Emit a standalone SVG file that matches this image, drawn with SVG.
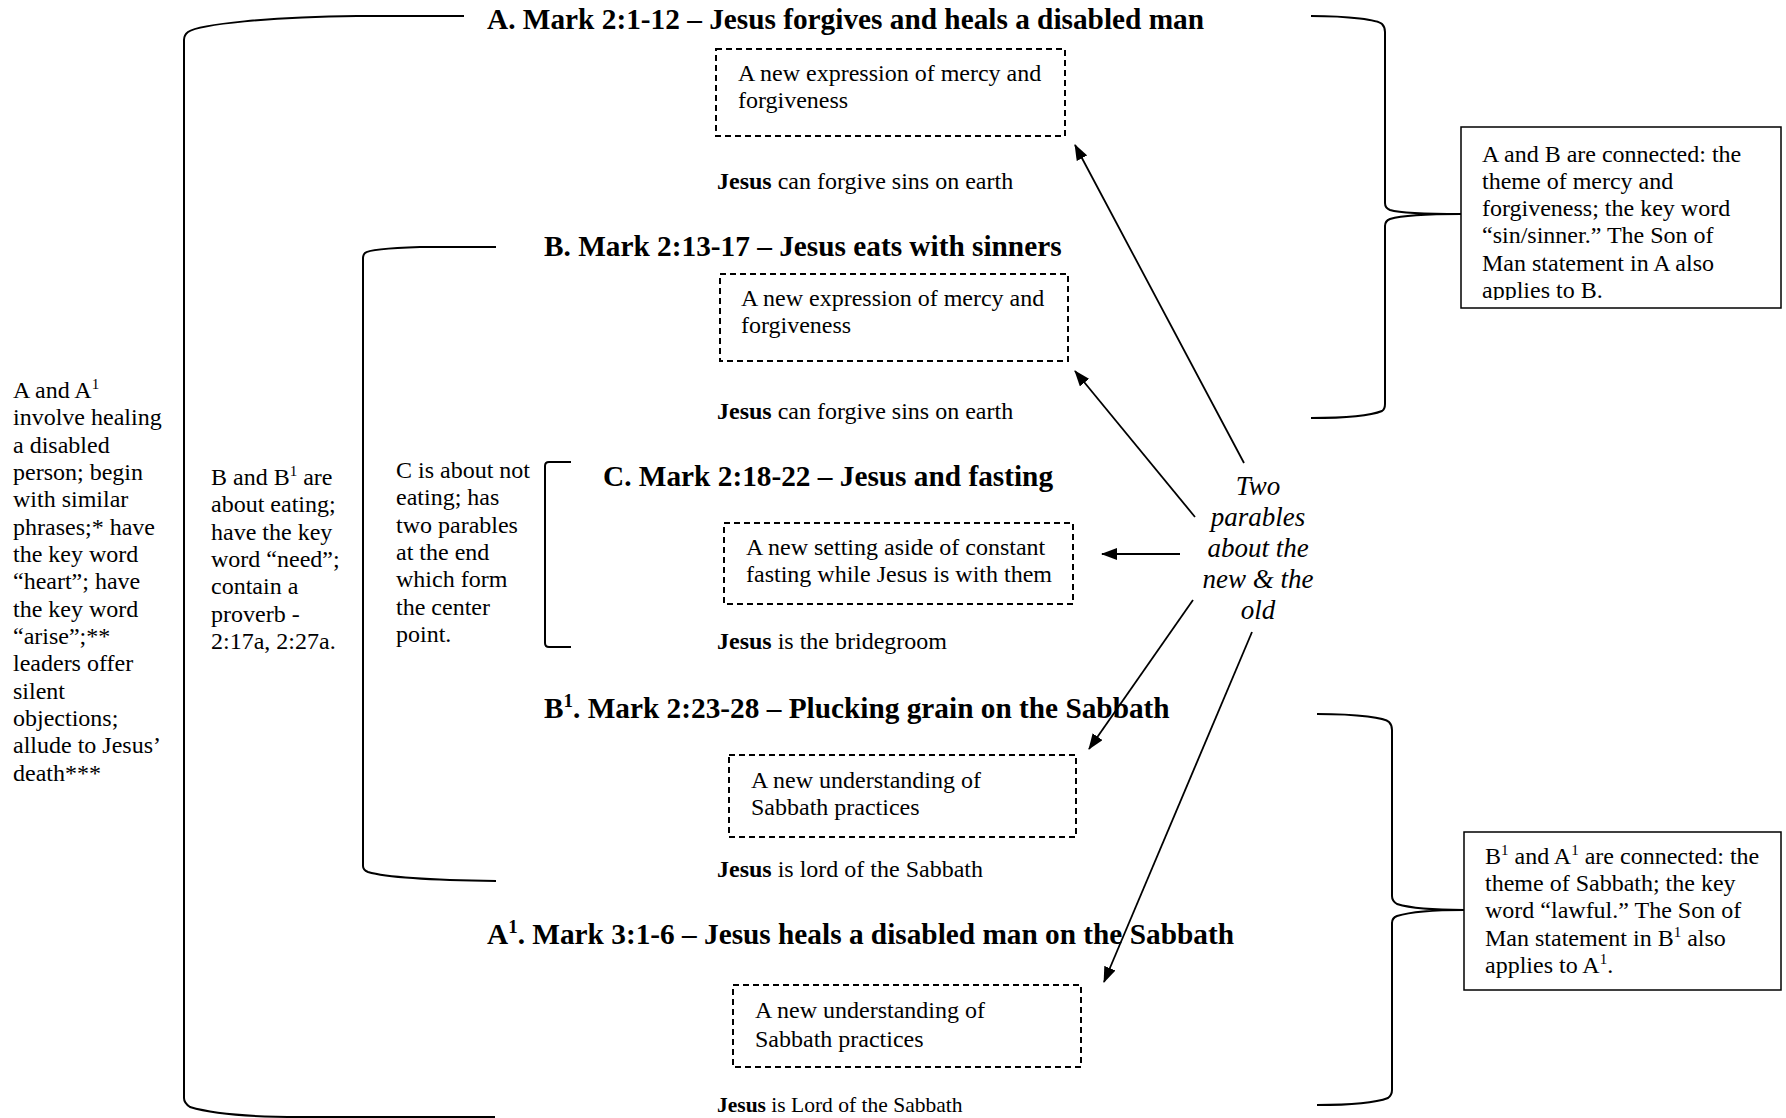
<svg xmlns="http://www.w3.org/2000/svg" width="1786" height="1118" viewBox="0 0 1786 1118">
<style>
text{font-family:"Liberation Serif","Times New Roman",serif;fill:#000}
.t{font-size:29.3px;font-weight:bold}
.b{font-size:24px}
.bb{font-weight:bold}
.it{font-size:27px;font-style:italic}
.dash{fill:none;stroke:#000;stroke-width:2;stroke-dasharray:6 4}
.box{fill:#fff;stroke:#000;stroke-width:1.5}
.br{fill:none;stroke:#000;stroke-width:2}
.ar{fill:none;stroke:#000;stroke-width:1.8;marker-end:url(#ah)}
</style>
<defs>
<marker id="ah" markerWidth="16" markerHeight="12" refX="15" refY="6" orient="auto" markerUnits="userSpaceOnUse">
<path d="M0,0 L16,6 L0,12 z" fill="#000"/>
</marker>
<clipPath id="clipAB"><rect x="1461" y="127" width="320" height="173"/></clipPath>
</defs>
<rect width="1786" height="1118" fill="#fff"/>

<g id="brackets">
<path class="br" d="M464,16 L357,16 C270,17 200,24 188,32 Q184,35 184,40 V1098 Q184,1103 190,1107 C210,1113 250,1117 300,1117 L495,1117"/>
<path class="br" d="M496,247 L420,247 C390,248 368,250 365,253 Q363,255 363,258 V866 Q363,870 368,872 C385,877 420,880 496,881"/>
<path class="br" d="M571,462 L549,462 Q545,462 545,466 V643 Q545,647 549,647 L571,647"/>
<path class="br" d="M1311,16 C1350,16 1378,20 1382,24 Q1385,27 1385,32 V203 Q1385,208 1390,210 C1400,213 1420,214 1461,214 C1420,214 1400,216 1390,219 Q1385,221 1385,226 V404 Q1385,409 1382,411 C1370,416 1340,418 1311,418"/>
<path class="br" d="M1317,714 C1360,714 1385,718 1389,722 Q1392,725 1392,730 V896 Q1392,901 1397,904 C1410,908 1430,910 1464,910 C1430,910 1410,912 1397,916 Q1392,918 1392,923 V1090 Q1392,1095 1388,1098 C1375,1103 1350,1105 1317,1105"/>
</g>

<g id="connectors">
<line class="ar" x1="1244" y1="463" x2="1075" y2="145"/>
<line class="ar" x1="1195" y1="517" x2="1075" y2="371"/>
<line class="ar" x1="1180" y1="554" x2="1102" y2="554"/>
<line class="ar" x1="1193" y1="600" x2="1089" y2="749"/>
<line class="ar" x1="1252" y1="632" x2="1104" y2="982"/>
</g>

<g id="nodeA">
<text class="t" x="487" y="29">A. Mark 2:1-12 – Jesus forgives and heals a disabled man</text>
<rect class="dash" x="716" y="49" width="349" height="87"/>
<text class="b" x="738" y="81">A new expression of mercy and</text>
<text class="b" x="738" y="108">forgiveness</text>
<text class="b" x="717" y="189"><tspan class="bb">Jesus</tspan> can forgive sins on earth</text>
</g>

<g id="nodeB">
<text class="t" x="544" y="256">B. Mark 2:13-17 – Jesus eats with sinners</text>
<rect class="dash" x="720" y="274" width="348" height="87"/>
<text class="b" x="741" y="306">A new expression of mercy and</text>
<text class="b" x="741" y="333">forgiveness</text>
<text class="b" x="717" y="419"><tspan class="bb">Jesus</tspan> can forgive sins on earth</text>
</g>

<g id="nodeC">
<text class="t" x="603" y="486">C. Mark 2:18-22 – Jesus and fasting</text>
<rect class="dash" x="724" y="523" width="349" height="81"/>
<text class="b" x="746" y="555">A new setting aside of constant</text>
<text class="b" x="746" y="582">fasting while Jesus is with them</text>
<text class="b" x="717" y="649"><tspan class="bb">Jesus</tspan> is the bridegroom</text>
</g>

<g id="nodeB1">
<text class="t" x="544" y="718">B<tspan font-size="19" dy="-11">1</tspan><tspan dy="11">. Mark 2:23-28 – Plucking grain on the Sabbath</tspan></text>
<rect class="dash" x="729" y="755" width="347" height="82"/>
<text class="b" x="751" y="788">A new understanding of</text>
<text class="b" x="751" y="815">Sabbath practices</text>
<text class="b" x="717" y="877"><tspan class="bb">Jesus</tspan> is lord of the Sabbath</text>
</g>

<g id="nodeA1">
<text class="t" x="487" y="944">A<tspan font-size="19" dy="-11">1</tspan><tspan dy="11">. Mark 3:1-6 – Jesus heals a disabled man on the Sabbath</tspan></text>
<rect class="dash" x="733" y="985" width="348" height="82"/>
<text class="b" x="755" y="1018">A new understanding of</text>
<text class="b" x="755" y="1047">Sabbath practices</text>
<text x="717" y="1112" style="font-size:21.5px"><tspan class="bb">Jesus</tspan> is Lord of the Sabbath</text>
</g>

<g id="noteAA1">
<text class="b" x="13" y="398">A and A<tspan font-size="15" dy="-9">1</tspan></text>
<text class="b" x="13" y="425">involve healing</text>
<text class="b" x="13" y="453">a disabled</text>
<text class="b" x="13" y="480">person; begin</text>
<text class="b" x="13" y="507">with similar</text>
<text class="b" x="13" y="535">phrases;* have</text>
<text class="b" x="13" y="562">the key word</text>
<text class="b" x="13" y="589">“heart”; have</text>
<text class="b" x="13" y="617">the key word</text>
<text class="b" x="13" y="644">“arise”;**</text>
<text class="b" x="13" y="671">leaders offer</text>
<text class="b" x="13" y="699">silent</text>
<text class="b" x="13" y="726">objections;</text>
<text class="b" x="13" y="753">allude to Jesus’</text>
<text class="b" x="13" y="781">death***</text>
</g>

<g id="noteBB1">
<text class="b" x="211" y="485">B and B<tspan font-size="15" dy="-9">1</tspan><tspan dy="9"> are</tspan></text>
<text class="b" x="211" y="512">about eating;</text>
<text class="b" x="211" y="540">have the key</text>
<text class="b" x="211" y="567">word “need”;</text>
<text class="b" x="211" y="594">contain a</text>
<text class="b" x="211" y="622">proverb -</text>
<text class="b" x="211" y="649">2:17a, 2:27a.</text>
</g>

<g id="noteC">
<text class="b" x="396" y="478">C is about not</text>
<text class="b" x="396" y="505">eating; has</text>
<text class="b" x="396" y="533">two parables</text>
<text class="b" x="396" y="560">at the end</text>
<text class="b" x="396" y="587">which form</text>
<text class="b" x="396" y="615">the center</text>
<text class="b" x="396" y="642">point.</text>
</g>

<g id="parables">
<text class="it" x="1258" y="495" text-anchor="middle">Two</text>
<text class="it" x="1258" y="526" text-anchor="middle">parables</text>
<text class="it" x="1258" y="557" text-anchor="middle">about the</text>
<text class="it" x="1258" y="588" text-anchor="middle">new &amp; the</text>
<text class="it" x="1258" y="619" text-anchor="middle">old</text>
</g>

<g id="noteAB">
<rect class="box" x="1461" y="127" width="320" height="181"/>
<g clip-path="url(#clipAB)">
<text class="b" x="1482" y="162">A and B are connected: the</text>
<text class="b" x="1482" y="189">theme of mercy and</text>
<text class="b" x="1482" y="216">forgiveness; the key word</text>
<text class="b" x="1482" y="243">“sin/sinner.” The Son of</text>
<text class="b" x="1482" y="271">Man statement in A also</text>
<text class="b" x="1482" y="298">applies to B.</text>
</g>
</g>

<g id="noteB1A1">
<rect class="box" x="1464" y="832" width="317" height="158"/>
<text class="b" x="1485" y="864">B<tspan font-size="15" dy="-9">1</tspan><tspan dy="9"> and A</tspan><tspan font-size="15" dy="-9">1</tspan><tspan dy="9"> are connected: the</tspan></text>
<text class="b" x="1485" y="891">theme of Sabbath; the key</text>
<text class="b" x="1485" y="918">word “lawful.” The Son of</text>
<text class="b" x="1485" y="946">Man statement in B<tspan font-size="15" dy="-9">1</tspan><tspan dy="9"> also</tspan></text>
<text class="b" x="1485" y="973">applies to A<tspan font-size="15" dy="-9">1</tspan><tspan dy="9">.</tspan></text>
</g>
</svg>
